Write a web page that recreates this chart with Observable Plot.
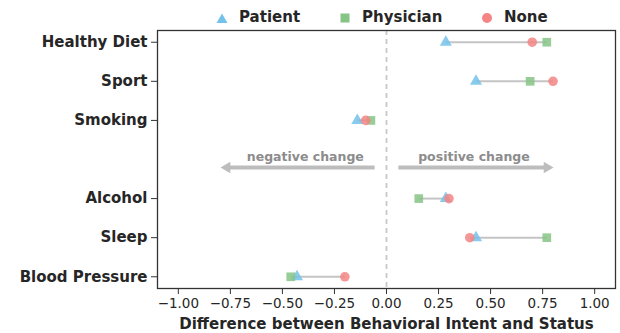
<!DOCTYPE html>
<html>
<head>
<meta charset="utf-8">
<script src="https://cdn.jsdelivr.net/npm/d3@7"></script>
<script src="https://cdn.jsdelivr.net/npm/@observablehq/plot@0.6"></script>
<style>
  body { margin: 0; background: #fff; font-family: "DejaVu Sans", sans-serif; }
  #legend { position: relative; height: 26px; width: 620px; overflow: hidden; }
  #legend .item { position: absolute; top: 9px; font-weight: bold; font-size: 15px; line-height: 17px; color: #262626; display: flex; align-items: center; }
  #chart svg { display: block; }
</style>
</head>
<body>
<div id="legend"></div>
<div id="chart"></div>
<script>
const rows = ["Healthy Diet", "Sport", "Smoking", "", "Alcohol", "Sleep", "Blood Pressure"];
const categories = ["Healthy Diet", "Sport", "Smoking", "Alcohol", "Sleep", "Blood Pressure"];
const patient   = [0.285, 0.43, -0.14, 0.285, 0.43, -0.43];
const physician = [0.77, 0.69, -0.075, 0.155, 0.77, -0.46];
const none      = [0.70, 0.80, -0.10, 0.30, 0.40, -0.20];
const series = ["Patient", "Physician", "None"];
const colors = ["#74c2ea", "#86c486", "#f58585"];
const symbols = ["triangle", "square", "circle"];
const xTicks = [-1, -0.75, -0.5, -0.25, 0, 0.25, 0.5, 0.75, 1];
const changeLabels = [{label: "negative change", x: -0.39, from: -0.057, to: -0.79, dir: -1},
                      {label: "positive change", x: 0.42, from: 0.057, to: 0.795, dir: 1}];

const rowIndex = c => rows.indexOf(c);
const gapRow = rows.indexOf("");
const seriesValues = [patient, physician, none];
const seriesData = seriesValues.map(vals => categories.map((c, i) => ({cat: c, v: vals[i]})));
const ranges = categories.map((c, i) => ({
  cat: c,
  lo: Math.min(patient[i], physician[i], none[i]),
  hi: Math.max(patient[i], physician[i], none[i])
}));
const markerR = [4.5, 4.9, 4.8];

// Legend
const legend = document.getElementById("legend");
const legendX = [216, 339, 481];
series.forEach((s, i) => {
  const d = document.createElement("div");
  d.className = "item";
  d.style.left = legendX[i] + "px";
  let shape;
  if (symbols[i] === "triangle") shape = `<polygon points="6,1.5 11.5,11 0.5,11" fill="${colors[i]}"/>`;
  else if (symbols[i] === "square") shape = `<rect x="1.5" y="1.5" width="9" height="9" fill="${colors[i]}"/>`;
  else shape = `<circle cx="6" cy="6" r="5" fill="${colors[i]}"/>`;
  d.innerHTML = `<svg width="12" height="12" style="margin-right:11px">${shape}</svg><span>${s}</span>`;
  legend.appendChild(d);
});

const chart = Plot.plot({
  width: 620,
  height: 307,
  marginTop: 4,
  marginBottom: 45,
  marginLeft: 157,
  marginRight: 5,
  style: {fontFamily: "DejaVu Sans, sans-serif", background: "#fff", color: "#262626"},
  x: {domain: [-1.1, 1.1]},
  y: {domain: [-0.3, rows.length - 0.7], reverse: true},
  marks: [
    Plot.ruleX([0], {stroke: "#c8c8c8", strokeWidth: 1.8, strokeDasharray: "5,4"}),
    Plot.link(changeLabels, {
      x1: "from", x2: d => d.to - d.dir * 0.035, y1: () => gapRow, y2: () => gapRow,
      dy: 8, stroke: "#bdbdbd", strokeWidth: 4.2
    }),
    Plot.dot(changeLabels, {
      x: d => d.to - d.dir * 0.024, y: () => gapRow, dy: 8, symbol: "triangle",
      rotate: d => d.dir * 90, r: 4.2, fill: "#bdbdbd", stroke: "none"
    }),
    Plot.text(changeLabels, {
      x: "x", y: () => gapRow, text: "label", dy: -3,
      fill: "#8c8c8c", fontWeight: "bold", fontSize: 12.5
    }),
    Plot.link(ranges, {x1: "lo", x2: "hi", y1: d => rowIndex(d.cat), y2: d => rowIndex(d.cat), stroke: "#c4c4c4", strokeWidth: 2}),
    ...seriesData.map((data, k) => Plot.dot(data, {
      x: "v", y: d => rowIndex(d.cat), symbol: symbols[k], fill: colors[k], stroke: "none",
      r: markerR[k], fillOpacity: 0.85
    })),
    Plot.frame({stroke: "#333", strokeWidth: 1.3}),
    Plot.axisX({
      ticks: xTicks, tickFormat: d => d.toFixed(2).replace("-", "\u2212"),
      tickSize: 6, fontSize: 13.5, tickPadding: 4, stroke: "#333",
      label: "Difference between Behavioral Intent and Status",
      labelAnchor: "center", labelArrow: "none", labelOffset: 40
    }),
    Plot.axisY({
      ticks: categories.map(rowIndex), tickFormat: i => rows[i],
      tickSize: 6, fontSize: 15, fontWeight: "bold",
      tickPadding: 4, stroke: "#333", label: null
    })
  ]
});
document.getElementById("chart").appendChild(chart);
chart.querySelectorAll("g[aria-label='x-axis label'] text").forEach(t => {
  t.setAttribute("font-weight", "bold");
  t.setAttribute("font-size", "15");
});
</script>
</body>
</html>
